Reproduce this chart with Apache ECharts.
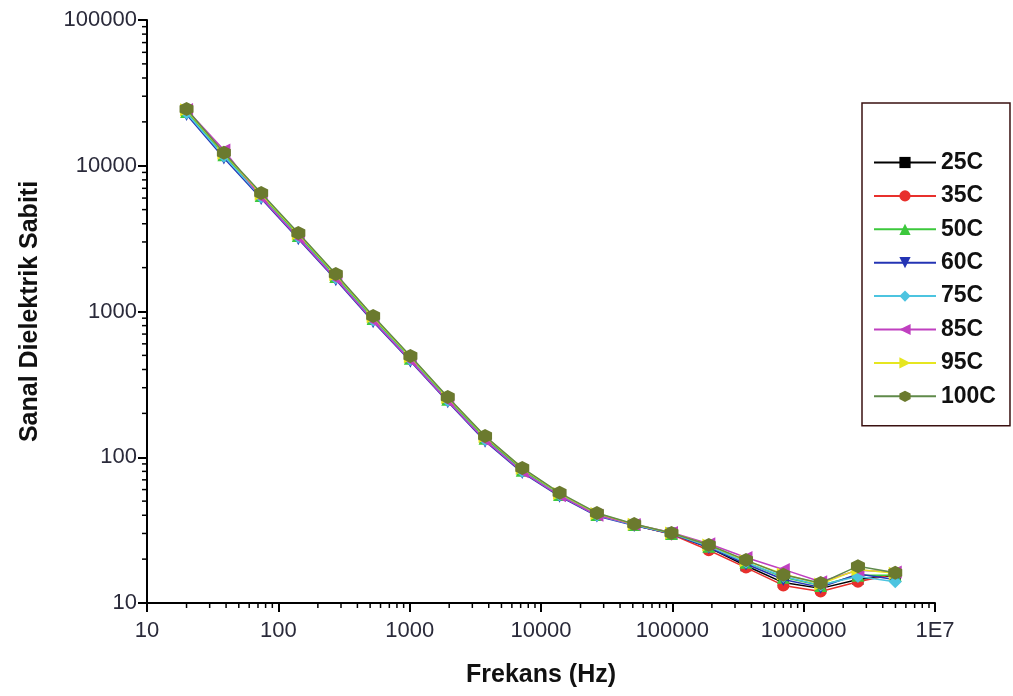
<!DOCTYPE html>
<html><head><meta charset="utf-8">
<script src="https://cdn.jsdelivr.net/npm/echarts@6/dist/echarts.min.js"></script>
<style>html,body{margin:0;padding:0;background:#fff}#c{width:1013px;height:696px}</style>
</head><body><div id="c"></div>
<script>
var freqs = [20, 38.5, 74, 142, 274, 527, 1013, 1950, 3750, 7200, 13850, 26650, 51250, 98500, 189500, 364000, 700000, 1347000, 2590000, 4980000];
var names = ['25C','35C','50C','60C','75C','85C','95C','100C'];
var s25  = [23800, 12000, 6300, 3350, 1750, 900, 480, 252, 136, 82, 55.5, 40.5, 34.2, 29.8, 24, 18, 13.8, 12.6, 14.5, 15.5];
var s35  = [24000, 12100, 6350, 3380, 1770, 910, 485, 254, 137, 83, 56, 40.8, 34.3, 29.6, 23, 17.5, 13.2, 12.0, 14.0, 15.8];
var s50  = [23600, 11900, 6250, 3320, 1740, 895, 478, 250, 135, 81.5, 55.5, 40.5, 34.5, 30, 24.5, 19, 15, 13.2, 15.5, 15.5];
var s60  = [22500, 11300, 5950, 3150, 1650, 850, 455, 240, 129, 78.5, 54, 39.5, 34, 29.8, 24, 18.5, 14.5, 12.8, 15.8, 14.5];
var s75  = [23000, 11600, 6100, 3250, 1700, 875, 468, 245, 132, 80, 55, 40, 34.3, 30, 24.5, 19, 15.2, 13.3, 15.2, 14.0];
var s85  = [24300, 12800, 6050, 3200, 1680, 865, 462, 243, 131, 79.5, 54.5, 40, 34.6, 30.5, 25.5, 20.5, 17, 14, 16.8, 16.3];
var s95  = [24200, 12200, 6400, 3420, 1790, 920, 490, 257, 139, 84, 56.5, 41.2, 34.7, 30.2, 25, 19.5, 15.8, 13.5, 17, 16];
var s100 = [24500, 12300, 6500, 3460, 1810, 930, 495, 259, 140, 84.5, 57, 41.5, 34.8, 30.2, 25, 19.7, 15.6, 13.7, 17.9, 16.1];
var xMinorTicks = [20,30,40,50,60,70,80,90,200,300,400,500,600,700,800,900,2000,3000,4000,5000,6000,7000,8000,9000,20000,30000,40000,50000,60000,70000,80000,90000,200000,300000,400000,500000,600000,700000,800000,900000,2000000,3000000,4000000,5000000,6000000,7000000,8000000,9000000];
var yMinorTicks = [20,30,40,50,60,70,80,90,200,300,400,500,600,700,800,900,2000,3000,4000,5000,6000,7000,8000,9000,20000,30000,40000,50000,60000,70000,80000,90000];

var allSeries = [s25, s35, s50, s60, s75, s85, s95, s100];
var colors = ['#000000','#e8302c','#3cc83c','#2434b4','#4cc4e0','#c040c0','#e6e620','#6b7a2e'];
var lineColors = ['#000000','#e8302c','#3cc83c','#2434b4','#4cc4e0','#c040c0','#e6e620','#5f8a4a'];
var hexPath = 'path://M0,-1 L0.866,-0.5 L0.866,0.5 L0,1 L-0.866,0.5 L-0.866,-0.5 Z';
var symbols = ['rect','circle','triangle','triangle','diamond','triangle','triangle',hexPath];
var rotates = [0,0,0,180,0,90,-90,0];
var sizes = [11,12,13,13,13,13,13,14];

var series = allSeries.map(function(vals, i){
  return {
    name: names[i], type: 'line',
    data: freqs.map(function(f, j){ return [f, vals[j]]; }),
    symbol: symbols[i], symbolRotate: rotates[i], symbolSize: sizes[i],
    showAllSymbol: true,
    lineStyle: {color: lineColors[i], width: 1.5},
    itemStyle: {color: colors[i]},
    z: 3 + i
  };
});
var tickStyle = {stroke: '#000', lineWidth: 1.5};
series.push({
  type: 'custom', name: 'xminor', silent: true, clip: false,
  data: xMinorTicks.map(function(v){ return [v]; }),
  renderItem: function(params, api){
    var p = api.coord([api.value(0), 10]);
    return {type: 'line', shape: {x1: p[0], y1: p[1], x2: p[0], y2: p[1] + 5}, style: tickStyle};
  },
  encode: {x: 0}, z: 10
});
series.push({
  type: 'custom', name: 'yminor', silent: true, clip: false,
  data: yMinorTicks.map(function(v){ return [10, v]; }),
  renderItem: function(params, api){
    var p = api.coord([10, api.value(1)]);
    return {type: 'line', shape: {x1: p[0], y1: p[1], x2: p[0] - 5, y2: p[1]}, style: tickStyle};
  },
  encode: {x: 0, y: 1}, z: 10
});

var font = '"Liberation Sans", Arial, sans-serif';
var chart = echarts.init(document.getElementById('c'), null, {renderer: 'canvas'});
chart.setOption({
  animation: false,
  backgroundColor: '#fff',
  grid: {left: 147, right: 78, top: 20, bottom: 93, containLabel: false},
  legend: {
    data: names, orient: 'vertical', left: 862, top: 103,
    padding: [48, 14, 18, 11], itemGap: 10.4, itemWidth: 62, itemHeight: 14,
    borderColor: '#3a1010', borderWidth: 1.5,
    textStyle: {fontFamily: font, fontSize: 23, fontWeight: 'bold', color: '#111'}
  },
  xAxis: {
    type: 'log', logBase: 10, min: 10, max: 10000000,
    name: 'Frekans (Hz)', nameLocation: 'middle', nameGap: 60,
    nameTextStyle: {fontFamily: font, fontSize: 25, fontWeight: 'bold', color: '#111'},
    axisLine: {show: true, lineStyle: {color: '#000', width: 2}},
    axisTick: {show: true, inside: false, length: 9, lineStyle: {color: '#000', width: 2}},
    axisLabel: {fontFamily: font, fontSize: 22, color: '#2a2a3a', margin: 17,
      formatter: function(v){ var r = Math.round(v); return r >= 10000000 ? '1E7' : String(r); }},
    splitLine: {show: false}, minorTick: {show: false}
  },
  yAxis: {
    type: 'log', logBase: 10, min: 10, max: 100000,
    name: 'Sanal Dielektrik Sabiti', nameLocation: 'middle', nameGap: 104, nameRotate: 90,
    nameTextStyle: {fontFamily: font, fontSize: 25, fontWeight: 'bold', color: '#111'},
    axisLine: {show: true, lineStyle: {color: '#000', width: 2}},
    axisTick: {show: true, inside: false, length: 9, lineStyle: {color: '#000', width: 2}},
    axisLabel: {fontFamily: font, fontSize: 22, color: '#2a2a3a', margin: 10,
      formatter: function(v){ return String(Math.round(v)); }},
    splitLine: {show: false}, minorTick: {show: false}
  },
  series: series
});
</script>
</body></html>
